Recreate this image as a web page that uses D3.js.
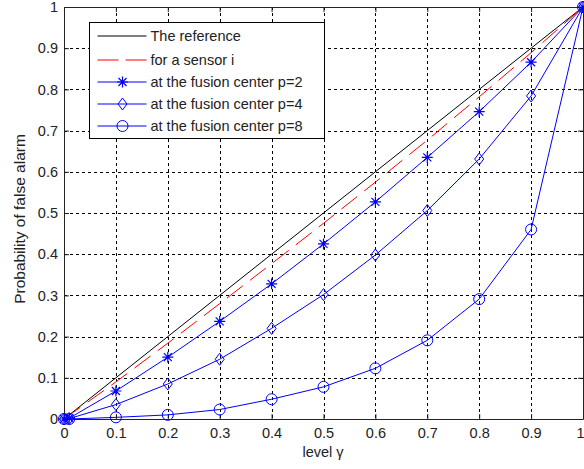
<!DOCTYPE html>
<html>
<head>
<meta charset="utf-8">
<script src="https://cdn.jsdelivr.net/npm/d3@7"></script>
<style>
body { margin: 0; background: #fff; }
text { font-family: "Liberation Sans", Arial, sans-serif; fill: #222; }
</style>
</head>
<body>
<div id="chart"></div>
<script>
// data
var gammaRef = [0, 0.1, 0.2, 0.3, 0.4, 0.5, 0.6, 0.7, 0.8, 0.9, 1];
var refValues = [0, 0.1, 0.2, 0.3, 0.4, 0.5, 0.6, 0.7, 0.8, 0.9, 1];
var sensorValues = [0, 0.09, 0.184, 0.28, 0.377, 0.475, 0.575, 0.677, 0.782, 0.889, 1];
var gammaFc = [0, 0.01, 0.1, 0.2, 0.3, 0.4, 0.5, 0.6, 0.7, 0.8, 0.9, 1];
var p2Values = [0, 0.002, 0.068, 0.15, 0.237, 0.328, 0.425, 0.527, 0.635, 0.746, 0.866, 1];
var p4Values = [0, 0.001, 0.035, 0.085, 0.145, 0.22, 0.302, 0.398, 0.506, 0.631, 0.784, 1];
var p8Values = [0, 0, 0.004, 0.01, 0.023, 0.048, 0.078, 0.123, 0.191, 0.291, 0.46, 1];
var tickValues = [0, 0.1, 0.2, 0.3, 0.4, 0.5, 0.6, 0.7, 0.8, 0.9, 1];
var legendLabels = ["The reference", "for a sensor i", "at the fusion center p=2",
    "at the fusion center p=4", "at the fusion center p=8"];

var W = 584, H = 469;
var margin = {left: 64, top: 7, right: 1, bottom: 50};
var w = W - margin.left - margin.right;
var h = H - margin.top - margin.bottom;

var svg = d3.select("#chart").append("svg")
    .attr("width", W)
    .attr("height", H);

var g = svg.append("g")
    .attr("transform", "translate(" + margin.left + "," + margin.top + ")");

var xScale = d3.scaleLinear().domain([0, 1]).range([0, w]);
var yScale = d3.scaleLinear().domain([0, 1]).range([h, 0]);

// dashed grid
g.selectAll(".vgrid")
    .data(tickValues.slice(1, -1))
    .enter().append("line")
    .attr("x1", function (d) { return Math.round(xScale(d)) + 0.5; })
    .attr("x2", function (d) { return Math.round(xScale(d)) + 0.5; })
    .attr("y1", 0).attr("y2", h)
    .attr("stroke", "#000").attr("stroke-width", 1)
    .attr("stroke-dasharray", "3,3");
g.selectAll(".hgrid")
    .data(tickValues.slice(1, -1))
    .enter().append("line")
    .attr("y1", function (d) { return Math.round(yScale(d)) + 0.5; })
    .attr("y2", function (d) { return Math.round(yScale(d)) + 0.5; })
    .attr("x1", 0).attr("x2", w)
    .attr("stroke", "#000").attr("stroke-width", 1)
    .attr("stroke-dasharray", "3,3");

// axes, ticks pointing inward
var fmt = function (d) { return d === 0 || d === 1 ? d3.format("d")(d) : d3.format(".1f")(d); };
var xAxis = d3.axisBottom(xScale).tickValues(tickValues).tickSizeInner(-5).tickSizeOuter(0).tickPadding(9).tickFormat(fmt);
var yAxis = d3.axisLeft(yScale).tickValues(tickValues).tickSizeInner(-5).tickSizeOuter(0).tickPadding(6).tickFormat(fmt);
var xTop = d3.axisTop(xScale).tickValues(tickValues).tickSizeInner(-5).tickSizeOuter(0).tickFormat("");
var yRight = d3.axisRight(yScale).tickValues(tickValues).tickSizeInner(-5).tickSizeOuter(0).tickFormat("");

var xg = g.append("g").attr("transform", "translate(0," + h + ")").call(xAxis);
g.append("g").call(yAxis);
g.append("g").call(xTop);
g.append("g").attr("transform", "translate(" + w + ",0)").call(yRight);

g.selectAll(".domain").attr("stroke", "#222");
g.selectAll(".tick line").attr("stroke", "#222");
g.selectAll(".tick text").style("font-size", "14.5px").attr("fill", "#222");
// the last x label sits on the window edge: keep it inside
xg.selectAll(".tick text").filter(function (d) { return d === 1; })
    .attr("text-anchor", "end").attr("x", 1);

// axis titles
svg.append("text")
    .attr("x", 323)
    .attr("y", 457)
    .attr("text-anchor", "middle")
    .style("font-size", "14.5px")
    .text("level \u03b3");
svg.append("text")
    .attr("transform", "translate(25,219) rotate(-90)")
    .attr("text-anchor", "middle")
    .style("font-size", "15.5px")
    .text("Probability of false alarm");

var line = d3.line()
    .x(function (d) { return xScale(d[0]); })
    .y(function (d) { return yScale(d[1]); });

function pairs(xs, ys) {
    return xs.map(function (x, i) { return [x, ys[i]]; });
}

var blue = "#0000ff";

// marker shapes
function drawMarker(sel, type) {
    if (type === "star") {
        sel.append("path")
            .attr("d", "M-5.5,0H5.5M0,-5.5V5.5M-4,-4L4,4M-4,4L4,-4")
            .attr("stroke", blue).attr("stroke-width", 1.2).attr("fill", "none");
    } else if (type === "diamond") {
        sel.append("path")
            .attr("d", "M0,-6L4.5,0L0,6L-4.5,0Z")
            .attr("stroke", blue).attr("stroke-width", 1).attr("fill", "none");
    } else if (type === "circle") {
        sel.append("circle").attr("r", 5.5)
            .attr("stroke", blue).attr("stroke-width", 1).attr("fill", "none");
    }
}

var series = [
    {data: pairs(gammaRef, refValues), color: "#000", dash: null, marker: null},
    {data: pairs(gammaRef, sensorValues), color: "#ff0000", dash: "20,9", marker: null},
    {data: pairs(gammaFc, p2Values), color: blue, dash: null, marker: "star"},
    {data: pairs(gammaFc, p4Values), color: blue, dash: null, marker: "diamond"},
    {data: pairs(gammaFc, p8Values), color: blue, dash: null, marker: "circle"}
];

series.forEach(function (s) {
    g.append("path")
        .datum(s.data)
        .attr("d", line)
        .attr("fill", "none")
        .attr("stroke", s.color)
        .attr("stroke-width", 1)
        .attr("stroke-dasharray", s.dash);
    if (s.marker) {
        g.selectAll(null)
            .data(s.data)
            .enter().append("g")
            .attr("transform", function (d) { return "translate(" + xScale(d[0]) + "," + yScale(d[1]) + ")"; })
            .each(function () { drawMarker(d3.select(this), s.marker); });
    }
});

// legend
var legend = svg.append("g").attr("transform", "translate(89.5,22.5)");
legend.append("rect")
    .attr("width", 235).attr("height", 116)
    .attr("fill", "#fff").attr("stroke", "#000").attr("stroke-width", 1);

var rowY = [13.5, 37.5, 59.5, 81.5, 103.5];
series.forEach(function (s, i) {
    var row = legend.append("g").attr("transform", "translate(0," + rowY[i] + ")");
    row.append("line")
        .attr("x1", 8).attr("x2", 57)
        .attr("stroke", s.color).attr("stroke-width", 1)
        .attr("stroke-dasharray", s.dash ? "21,7" : null);
    if (s.marker) {
        drawMarker(row.append("g").attr("transform", "translate(33,0)"), s.marker);
    }
    row.append("text")
        .attr("x", 61).attr("y", 5)
        .style("font-size", "14.5px")
        .text(legendLabels[i]);
});
</script>
</body>
</html>
